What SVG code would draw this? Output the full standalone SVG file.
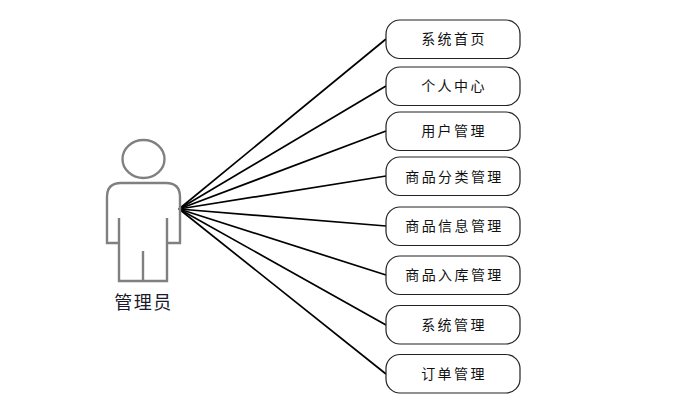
<svg xmlns="http://www.w3.org/2000/svg" width="696" height="410" viewBox="0 0 696 410">
<style>
.n{fill:#fff;stroke:#222;stroke-width:1.2}
.t{font-family:"Noto Sans CJK SC","Liberation Sans",sans-serif;font-size:14px;letter-spacing:2.4px;fill:#111;text-anchor:middle}
.c line{stroke:#000;stroke-width:1.7}
.a{fill:none;stroke:#808080;stroke-width:2.4}
</style>
<rect width="696" height="410" fill="#fff"/>
<g id="connectors" class="c">
<line x1="179" y1="209" x2="386" y2="39"/>
<line x1="179" y1="209" x2="386" y2="86"/>
<line x1="179" y1="209" x2="386" y2="131"/>
<line x1="179" y1="209" x2="386" y2="176"/>
<line x1="179" y1="209" x2="386" y2="226"/>
<line x1="179" y1="209" x2="386" y2="275"/>
<line x1="179" y1="209" x2="386" y2="325"/>
<line x1="179" y1="209" x2="386" y2="374"/>
</g>
<g id="actor">
<ellipse class="a" cx="143.500" cy="159" rx="21" ry="19"/>
<path class="a" d="M119 243H107V197Q107 183 121 183H166Q180 183 180 197V243H167M119 218V281H167V218M143 251V281"/>
<text x="143.500" y="309" style="font-family:'Noto Sans CJK SC','Liberation Sans',sans-serif;font-size:18px;letter-spacing:1.5px;fill:#1a1a2a;text-anchor:middle">管理员</text>
</g>
<g id="n1"><rect class="n" x="386" y="20" width="134" height="38.500" rx="14"/><text class="t" x="454" y="44">系统首页</text></g>
<g id="n2"><rect class="n" x="386" y="67" width="134" height="38.500" rx="14"/><text class="t" x="454" y="91">个人中心</text></g>
<g id="n3"><rect class="n" x="386" y="112" width="134" height="38.500" rx="14"/><text class="t" x="454" y="136">用户管理</text></g>
<g id="n4"><rect class="n" x="386" y="157" width="134" height="38.500" rx="14"/><text class="t" x="454.500" y="181.500">商品分类管理</text></g>
<g id="n5"><rect class="n" x="386" y="207" width="134" height="38.500" rx="14"/><text class="t" x="454.500" y="231">商品信息管理</text></g>
<g id="n6"><rect class="n" x="386" y="256" width="134" height="38.500" rx="14"/><text class="t" x="454.500" y="280">商品入库管理</text></g>
<g id="n7"><rect class="n" x="386" y="305.500" width="134" height="38.500" rx="14"/><text class="t" x="454" y="330">系统管理</text></g>
<g id="n8"><rect class="n" x="386" y="354.500" width="134" height="38.500" rx="14"/><text class="t" x="454" y="379">订单管理</text></g>
</svg>
